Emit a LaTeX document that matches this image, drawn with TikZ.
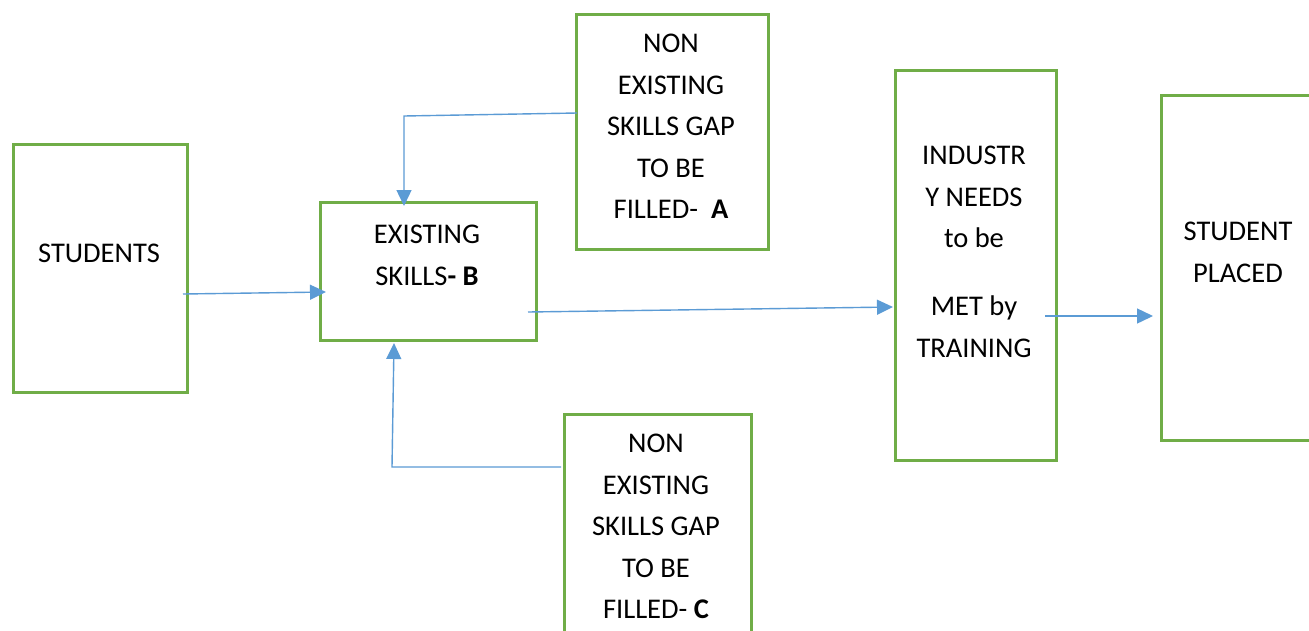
\documentclass[tikz,border=0pt]{standalone}
\usepackage{fontspec}
\setmainfont{Carlito}
\usetikzlibrary{arrows.meta}
\definecolor{boxgreen}{RGB}{112,173,71}
\definecolor{arrowblue}{RGB}{91,155,213}
\begin{document}
\begin{tikzpicture}[x=1pt,y=-1pt,
  box/.style={draw=boxgreen,line width=2.6pt,inner sep=0pt,anchor=north west},
  lbl/.style={font=\fontsize{28.5}{41.5}\selectfont,align=center,inner sep=0pt,anchor=north},
  conn/.style={draw=arrowblue,line width=1.4pt,-{Triangle[length=16pt,width=15pt]}},
  line/.style={draw=arrowblue,line width=1.4pt}]
\clip (0,0) rectangle (1309,630);
\fill[white] (0,0) rectangle (1309,630);
% boxes
\node[box,minimum width=174pt,minimum height=248pt] (students) at (12,143) {};
\node[box,minimum width=216pt,minimum height=138pt] (exist) at (319,201) {};
\node[box,minimum width=192pt,minimum height=235pt] (gapA) at (575,13) {};
\node[box,minimum width=187pt,minimum height=240pt] (gapC) at (563,413) {};
\node[box,minimum width=161pt,minimum height=390pt] (industry) at (894,69) {};
\node[box,minimum width=180pt,minimum height=345pt] (placed) at (1160,94) {};
% texts
\node[lbl] (tstudents) at (99,244) {STUDENTS};
\node[lbl] (texist) at (427,225) {EXISTING\\SKILLS\textbf{- B}};
\node[lbl] (tgapA) at (671,34) {NON\\EXISTING\\SKILLS GAP\\TO BE\\FILLED-\ \ \textbf{A}};
\node[lbl] (tgapC) at (656,434) {NON\\EXISTING\\SKILLS GAP\\TO BE\\FILLED- \textbf{C}};
\node[lbl] (tind1) at (974,146) {INDUSTR\\Y NEEDS\\to be};
\node[lbl] (tind2) at (974,296) {MET by\\TRAINING};
\node[lbl] (tplaced) at (1238,222) {STUDENT\\PLACED};
% connector ends
\coordinate (s1) at (183,294);
\coordinate (e1) at (326,292);
\coordinate (a1) at (577,113);
\coordinate (a2) at (404,116);
\coordinate (e2) at (404,206);
\coordinate (c1) at (561,467);
\coordinate (c2) at (392,467);
\coordinate (e3) at (394,343);
\coordinate (x1) at (528,312);
\coordinate (i1) at (893,307);
\coordinate (i2) at (1045,316);
\coordinate (p1) at (1153,316);
% connectors
\draw[conn] (s1) -- (e1);
\draw[conn] (a1) -- (a2) -- (e2);
\draw[conn] (c1) -- (c2) -- (e3);
\draw[conn] (x1) -- (i1);
\draw[conn] (i2) -- (p1);
\end{tikzpicture}
\end{document}
